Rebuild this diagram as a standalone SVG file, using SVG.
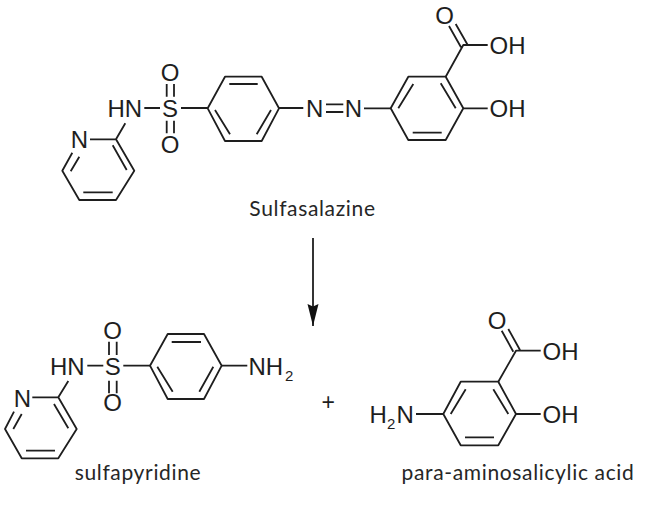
<svg xmlns="http://www.w3.org/2000/svg" width="653" height="516" viewBox="0 0 653 516">
<style>
.b{fill:none;stroke:#1e1e1e;stroke-width:1.8;stroke-linejoin:round;stroke-linecap:butt}
.a{font-family:"Liberation Sans",Arial,sans-serif;font-size:24px;fill:#1e1e1e}
.s{font-family:"Liberation Sans",Arial,sans-serif;font-size:15px;fill:#1e1e1e}
.l{font-family:"Lato",sans-serif;font-size:21px;letter-spacing:.65px;fill:#262626}
.m{text-anchor:middle}
</style>
<defs>
<marker id="head" markerUnits="userSpaceOnUse" markerWidth="24" markerHeight="12" refX="22" refY="6" orient="auto" viewBox="0 0 24 12"><path d="M0 .5 L22 6 L0 11.5 L2.5 6 Z" fill="#111"/></marker>
</defs>
<rect width="653" height="516" fill="#fff"/>
<g id="sulfasalazine">
<path class="b" d="M225 76.7H261.7L279 108.3L261.7 141H225L207.7 108.3Z M229.3 84H257.7 M215 110L230 134.3 M271 110L256.7 134.3"/>
<path class="b" d="M181 108H207.7 M144.3 108H160 M279 108H303.3 M166.7 84V96.7 M174 84V96.7 M166.7 120.7V133.3 M174 120.7V133.3"/>
<path class="b" d="M90 139.3H116L134.3 170.7L116 200H79.3L62.3 170.7L72.3 152.7 M125.3 123.3L116 139.3 M112.7 145.3L126.7 170 M83.3 192.3H112.7 M70.7 171.3L79.3 156.7"/>
<path class="b" d="M326 104.3H343.3 M326 112H343.3 M364 108.3H390.7"/>
<path class="b" d="M390.7 108.3L408.3 76.7H445.7L463.3 108.3L445.7 140H408.3Z M398.3 108.3L413.3 84 M440.7 83.3L455.7 108.3 M412.7 132.7H441.7"/>
<path class="b" d="M445.7 76.7L463.3 45H487.7 M463.3 108.3H487.7 M449 26L461 47.3 M455.7 24L467.7 45"/>
<text class="a m" x="170" y="80.8">O</text>
<text class="a m" x="170" y="116.5">S</text>
<text class="a m" x="170" y="153">O</text>
<text class="a" x="107.5" y="116.5">HN</text>
<text class="a m" x="79.3" y="147.5">N</text>
<text class="a m" x="314.7" y="117">N</text>
<text class="a m" x="353.3" y="117">N</text>
<text class="a m" x="444.7" y="23.5">O</text>
<text class="a" x="489.5" y="54">OH</text>
<text class="a" x="489.5" y="117">OH</text>
</g>
<g id="sulfasalazine-label"><text class="l m" x="312.5" y="216">Sulfasalazine</text></g>
<g id="sulfapyridine">
<path class="b" d="M167.7 334H204L221.7 365.7L204 399H167.7L150 365.7Z M171.7 342H201 M157.3 366.7L172.7 391.7 M213.3 366.7L199.3 391.7"/>
<path class="b" d="M87.3 365.7H103.3 M123.3 365.7H150 M221.7 365.7H247.3 M109 341.7V355 M116.7 341.7V355 M109 380.7V393.3 M116.7 380.7V393.3"/>
<path class="b" d="M32.3 397.3H58.3L76.7 429L58.3 458.3H21.7L5 429L14 411.7 M68.3 381L58.3 397.3 M54 404L68.3 428.3 M26 450.7H55 M13.3 429L21.7 414"/>
<text class="a m" x="112.7" y="338.5">O</text>
<text class="a m" x="112.7" y="375">S</text>
<text class="a m" x="112.7" y="411">O</text>
<text class="a" x="50" y="375">HN</text>
<text class="a m" x="22.3" y="406.5">N</text>
<text class="a" x="248.5" y="375">NH</text>
<text class="s" x="285" y="381">2</text>
</g>
<g id="sulfapyridine-label"><text class="l m" x="138" y="480">sulfapyridine</text></g>
<g id="plus"><text class="s m" x="328.3" y="409.5" style="font-size:23px">+</text></g>
<g id="para-aminosalicylic-acid">
<path class="b" d="M443.3 414L460.7 381.7H498.3L516 414L498.3 445.3H460.7Z M450.7 414L465.7 389.3 M493.3 389.3L508.3 414 M465 437.3H494"/>
<path class="b" d="M498.3 381.7L516 350.7H540.7 M516 414H540.7 M416 414H443.3 M501.7 330.7L513.3 351.7 M508.3 329L520 350"/>
<text class="a m" x="497" y="328.5">O</text>
<text class="a" x="542.5" y="360">OH</text>
<text class="a" x="542.5" y="422.7">OH</text>
<text class="a" x="369.5" y="422.7">H</text>
<text class="s" x="387" y="429">2</text>
<text class="a" x="396.5" y="422.7">N</text>
</g>
<g id="paba-label"><text class="l m" x="518" y="480">para-aminosalicylic acid</text></g>
<g id="connectors">
<path class="b" d="M313 238V326" marker-end="url(#head)"/>
</g>
</svg>
